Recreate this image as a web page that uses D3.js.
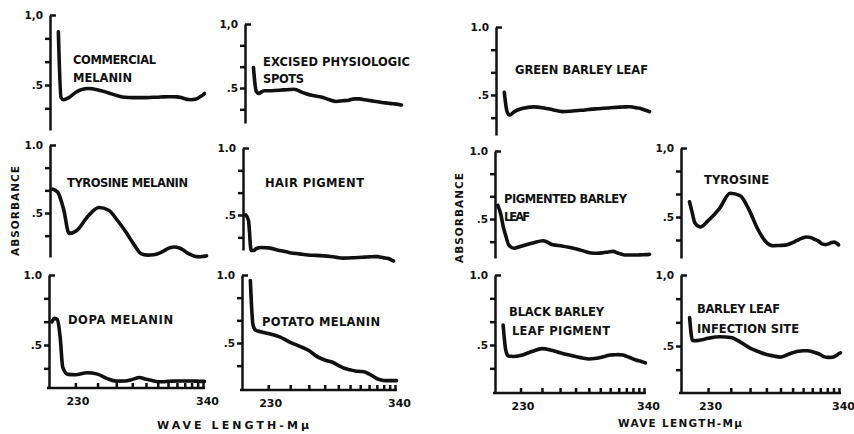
<!DOCTYPE html>
<meta charset="utf-8">
<style>
  body { margin: 0; background: #fff; }
  svg text { font-family: "DejaVu Sans", sans-serif; font-weight: bold; fill: #111; }
  /* traces are drawn thick, like the inked originals */
  .trace { fill: none; stroke: #111; stroke-width: 3.6px; stroke-linejoin: round; stroke-linecap: round; }
  .axis path, .axis line, .frame { fill: none; stroke: #111; stroke-width: 2.5px; }
</style>
<body>
<script src="https://d3js.org/d3.v7.min.js"></script>
<script>

  // wave length samples, m-mu
  var wavelengths = [221, 222, 223, 224, 225, 227, 230, 235, 240, 245, 250, 255, 260, 265, 270,
    275, 280, 285, 290, 295, 300, 305, 310, 315, 320, 325, 330, 335, 340, 343];

  // absorbance (null = no trace there)
  var commercialMelanin = [null, null, 0.88, 0.41, 0.395, 0.41, 0.45, 0.475, 0.465, 0.445, 0.425, 0.412, 0.41, 0.41, 0.41,
    0.412, 0.413, 0.415, 0.416, 0.416, 0.415, 0.41, 0.402, 0.396, 0.395, 0.398, 0.405, 0.418, 0.43, 0.44];
  var excisedSpots = [null, null, 0.66, 0.475, 0.458, 0.479, 0.479, 0.485, 0.49, 0.462, 0.441, 0.43, 0.41, 0.395, 0.40,
    0.405, 0.415, 0.415, 0.408, 0.402, 0.397, 0.392, 0.387, 0.384, 0.381, 0.378, 0.376, 0.373, 0.37, 0.367];
  var tyrosineMelanin = [0.675, 0.665, 0.645, 0.59, 0.52, 0.35, 0.37, 0.478, 0.54, 0.52, 0.443, 0.358, 0.27, 0.202, 0.19,
    0.193, 0.205, 0.225, 0.245, 0.25, 0.245, 0.23, 0.21, 0.195, 0.185, 0.179, 0.178, 0.18, 0.183, 0.185];
  var hairPigment = [0.50, 0.46, 0.235, 0.235, 0.25, 0.257, 0.255, 0.235, 0.219, 0.21, 0.202, 0.199, 0.195, 0.19, 0.184,
    0.178, 0.179, 0.181, 0.183, 0.185, 0.187, 0.188, 0.189, 0.189, 0.184, 0.18, 0.177, 0.172, 0.162, 0.157];
  var dopaMelanin = [0.665, 0.69, 0.68, 0.56, 0.34, 0.29, 0.288, 0.302, 0.292, 0.26, 0.242, 0.243, 0.254, 0.268, 0.256,
    0.247, 0.238, 0.238, 0.24, 0.242, 0.243, 0.243, 0.243, 0.243, 0.243, 0.242, 0.242, 0.24, 0.24, 0.24];
  var potatoMelanin = [null, null, 0.96, 0.63, 0.594, 0.583, 0.57, 0.545, 0.505, 0.475, 0.445, 0.40, 0.375, 0.36, 0.336,
    0.314, 0.303, 0.294, 0.291, 0.287, 0.272, 0.256, 0.238, 0.229, 0.224, 0.223, 0.223, 0.223, 0.223, 0.223];
  var greenBarleyLeaf = [null, null, 0.52, 0.38, 0.353, 0.38, 0.40, 0.413, 0.405, 0.39, 0.378, 0.381, 0.386, 0.39, 0.396,
    0.399, 0.402, 0.405, 0.408, 0.41, 0.412, 0.413, 0.414, 0.41, 0.405, 0.402, 0.395, 0.388, 0.382, 0.377];
  var pigmentedBarleyLeaf = [0.60, 0.54, 0.44, 0.37, 0.31, 0.285, 0.30, 0.324, 0.34, 0.31, 0.302, 0.29, 0.277, 0.262, 0.25,
    0.248, 0.252, 0.258, 0.262, 0.25, 0.24, 0.235, 0.235, 0.235, 0.235, 0.236, 0.237, 0.238, 0.238, 0.24];
  var tyrosine = [null, null, 0.61, 0.53, 0.456, 0.428, 0.47, 0.56, 0.672, 0.655, 0.55, 0.415, 0.324, 0.292, 0.294,
    0.296, 0.31, 0.328, 0.345, 0.355, 0.352, 0.338, 0.325, 0.305, 0.30, 0.305, 0.315, 0.318, 0.308, 0.298];
  var blackBarleyPigment = [null, null, 0.643, 0.464, 0.421, 0.418, 0.425, 0.453, 0.474, 0.463, 0.445, 0.43, 0.418, 0.407, 0.40,
    0.403, 0.411, 0.42, 0.428, 0.43, 0.431, 0.428, 0.42, 0.411, 0.401, 0.393, 0.387, 0.382, 0.376, 0.372];
  var barleyInfectionSite = [null, null, 0.70, 0.54, 0.537, 0.542, 0.554, 0.565, 0.56, 0.526, 0.485, 0.46, 0.44, 0.43, 0.422,
    0.437, 0.452, 0.463, 0.467, 0.466, 0.46, 0.451, 0.44, 0.425, 0.42, 0.42, 0.423, 0.433, 0.447, 0.452];

  // axis ticks
  var xTickValues = d3.range(230, 341, 10);
  var xTickLabels = { 230: "230", 340: "340" };
  var yTickValues = [1, 5 / 6, 4 / 6, 0.5, 2 / 6];

  // one entry per little graph: where it sits on the page
  var panels = [
    { title: ["COMMERCIAL", "MELANIN"], values: commercialMelanin, top: "1,0",
      x0: 50, x340: 203, y1: 15, y5: 85, yb: 130, tx: [73, 73], ty: [64, 82], tw: [83, 59] },
    { title: ["EXCISED PHYSIOLOGIC", "SPOTS"], values: excisedSpots, top: "1,0",
      x0: 245, x340: 400, y1: 24, y5: 88, yb: 123, tx: [263, 263], ty: [66, 83], tw: [147, 41] },
    { title: ["TYROSINE MELANIN"], values: tyrosineMelanin, top: "1.0",
      x0: 50, x340: 205, y1: 145, y5: 213, yb: 257, tx: [67], ty: [187], tw: [121] },
    { title: ["HAIR PIGMENT"], values: hairPigment, top: "1.0",
      x0: 243, x340: 392, y1: 148, y5: 215, yb: 250, tx: [265], ty: [187], tw: [99] },
    { title: ["DOPA MELANIN"], values: dopaMelanin, top: "1.0", xaxis: true,
      x0: 49, x340: 203, y1: 275, y5: 345, yb: 388, tx: [68], ty: [324], tw: [105] },
    { title: ["POTATO MELANIN"], values: potatoMelanin, top: "1.0", xaxis: true,
      x0: 242, x340: 395, y1: 275, y5: 343, yb: 390, tx: [262], ty: [326], tw: [118] },
    { title: ["GREEN BARLEY LEAF"], values: greenBarleyLeaf, top: "1.0",
      x0: 496, x340: 648, y1: 27, y5: 95, yb: 135, tx: [515], ty: [74], tw: [133] },
    { title: ["PIGMENTED BARLEY", "LEAF"], values: pigmentedBarleyLeaf, top: "1.0",
      x0: 495, x340: 648, y1: 151, y5: 219, yb: 258, tx: [504, 504], ty: [203, 221], tw: [123, 26] },
    { title: ["TYROSINE"], values: tyrosine, top: "1,0",
      x0: 681, x340: 837, y1: 148, y5: 217, yb: 258, tx: [704], ty: [184], tw: [65] },
    { title: ["BLACK BARLEY", "LEAF PIGMENT"], values: blackBarleyPigment, top: "1.0", xaxis: true,
      x0: 495, x340: 644, y1: 275, y5: 345, yb: 393, tx: [509, 512], ty: [316, 335], tw: [95, 98] },
    { title: ["BARLEY LEAF", "INFECTION SITE"], values: barleyInfectionSite, top: "1,0", xaxis: true,
      x0: 681, x340: 839, y1: 275, y5: 346, yb: 393, tx: [697, 697], ty: [313, 333], tw: [83, 102] }
  ];

  var svg = d3.select("body").append("svg")
    .attr("width", 854)
    .attr("height", 434);

  panels.forEach(function (p) {
    var g = svg.append("g");

    // wave length axis is squeezed toward the long end (~ 1/lambda^3)
    var x = d3.scalePow().exponent(-3)
      .domain([220, 340])
      .range([p.x0, p.x340]);

    // 1.0 and .5 fix the scale, the axis stops wherever the bottom is
    var y = d3.scaleLinear().domain([0.5, 1]).range([p.y5, p.y1]);
    y.domain([y.invert(p.yb), 1]).range([p.yb, p.y1]);

    var yAxis = d3.axisLeft(y)
      .tickValues(yTickValues.filter(function (v) { return y(v) < p.yb - 4; }))
      .tickSizeInner(5)
      .tickSizeOuter(0)
      .tickPadding(2)
      .tickFormat(function (v) {
        if (v === 1) return p.top;
        if (v === 0.5) return ".5";
        return "";
      });

    var ya = g.append("g")
      .attr("class", "axis")
      .attr("transform", "translate(" + p.x0 + ",0)")
      .call(yAxis);
    ya.attr("font-family", null).attr("font-size", null);
    ya.selectAll("text").style("font-size", "10.5px");
    // the 1.0 tick points inward
    ya.selectAll(".tick").filter(function (v) { return v === 1; })
      .select("line").attr("x2", 6);

    if (p.xaxis) {
      var xAxis = d3.axisBottom(x)
        .tickValues(xTickValues)
        .tickSizeInner(-5)
        .tickSizeOuter(0)
        .tickPadding(9)
        .tickFormat(function (v) { return xTickLabels[v] || ""; });
      var xa = g.append("g")
        .attr("class", "axis")
        .attr("transform", "translate(0," + p.yb + ")")
        .call(xAxis);
      xa.attr("font-family", null).attr("font-size", null);
      xa.select(".domain").remove();
      xa.selectAll("text").style("font-size", "11px")
        .attr("dx", function (v) { return v === 340 ? 4 : 2; });
      g.append("line")
        .attr("class", "frame")
        .attr("x1", p.x0 - 2)
        .attr("x2", x(344))
        .attr("y1", p.yb)
        .attr("y2", p.yb);
    }

    var line = d3.line()
      .defined(function (d) { return d[1] != null; })
      .x(function (d) { return x(d[0]); })
      .y(function (d) { return y(d[1]); })
      .curve(d3.curveMonotoneX);

    g.append("path")
      .attr("class", "trace")
      .attr("d", line(d3.zip(wavelengths, p.values)));

    p.title.forEach(function (t, i) {
      g.append("text")
        .attr("x", p.tx[i])
        .attr("y", p.ty[i])
        .attr("textLength", p.tw[i])
        .attr("lengthAdjust", "spacing")
        .style("font-size", "11.5px")
        .text(t);
    });
  });

  // axis titles
  [[19, 211], [463, 218]].forEach(function (pos) {
    svg.append("text")
      .attr("transform", "translate(" + pos[0] + "," + pos[1] + ") rotate(-90)")
      .attr("text-anchor", "middle")
      .attr("textLength", 90)
      .attr("lengthAdjust", "spacing")
      .style("font-size", "10.5px")
      .text("ABSORBANCE");
  });

  [[157, 429, 152, 11], [618, 427, 124, 10.5]].forEach(function (pos) {
    svg.append("text")
      .attr("x", pos[0])
      .attr("y", pos[1])
      .attr("textLength", pos[2])
      .attr("lengthAdjust", "spacing")
      .style("font-size", pos[3] + "px")
      .text("WAVE LENGTH-Mμ");
  });

</script>
</body>
